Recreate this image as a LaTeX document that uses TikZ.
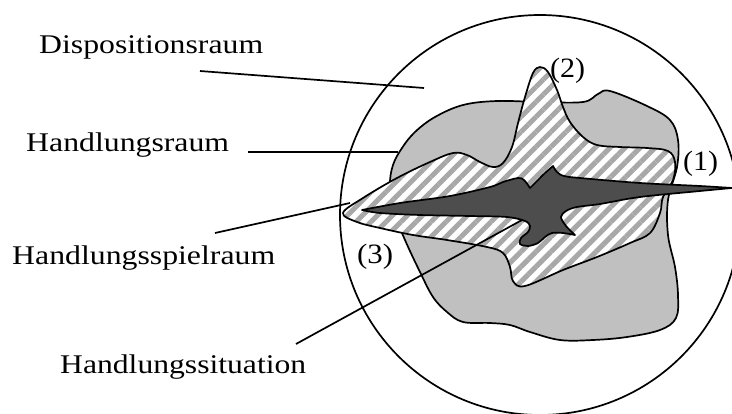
\documentclass[tikz,border=0pt]{standalone}
\usepackage{fontspec}
\setmainfont{Liberation Serif}
\usetikzlibrary{patterns.meta}
\newcommand{\fitw}[2]{\resizebox{#1}{\height}{#2}}
\begin{document}
\begin{tikzpicture}[x=1pt,y=-1pt,
  outline/.style={line width=1.7pt, line join=round},
  leader/.style={line width=1.7pt},
  bigtext/.style={anchor=base west, inner sep=0pt, font=\fontsize{27}{30}\selectfont},
  numtext/.style={anchor=base west, inner sep=0pt, font=\fontsize{28}{30}\selectfont},
  graybox/.style={outline, fill={rgb,255:red,192;green,192;blue,192}},
  darkbox/.style={outline, fill={rgb,255:red,77;green,77;blue,77}}]
\useasboundingbox (0,0) rectangle (732,413);
% outer circle: Dispositionsraum
\draw[outline] (540,215) circle[radius=200];
% Handlungsraum (gray)
\draw[graybox] plot[smooth cycle, tension=0.6] coordinates {
 (390,185) (393,165) (402,148) (415,132) (435,117) (463,105) (497,101)
 (540,102) (583,102) (598,94) (610,91) (647,106) (670,120) (678,140)
 (677,167) (668,200) (668,235) (675,267) (678,295) (676,318) (660,330)
 (627,337) (593,340) (560,340) (530,332) (510,325) (490,323) (463,322)
 (447,312) (433,297) (420,272) (405,240) (394,212)};
% Handlungsspielraum (hatched)
\def\hatchpath{plot[smooth cycle, tension=0.6] coordinates {
 (343,213) (363,198) (397,178) (430,162) (453,153) (467,155) (480,162)
 (493,167) (503,163) (512,147) (518,123) (525,97) (533,73) (540,67)
 (548,72) (557,90) (563,107) (570,122) (583,137) (597,145) (620,147)
 (647,148) (668,151) (675,162) (673,180) (663,197) (660,213) (650,233)
 (630,243) (597,257) (563,270) (525,286) (513,281) (510,267) (503,253)
 (487,247) (447,240) (413,235) (380,228) (357,222)}}
\fill[white] \hatchpath;
\fill[pattern={Lines[angle=45,distance=10.6pt,line width=5pt]}, pattern color=gray!68] \hatchpath;
\draw[outline] \hatchpath;
% Handlungssituation (dark)
\draw[darkbox]
 plot[smooth, tension=0.55] coordinates {(362,210) (400,203) (450,196) (490,187) (503,182) (518,178) (524,180) (530,188)}
 -- plot[smooth, tension=0.55] coordinates {(530,188) (537,181) (545,173) (553,166)}
 -- plot[smooth, tension=0.55] coordinates {(553,166) (557,172) (564,176) (580,178) (640,183) (700,186) (732,188)}
 -- plot[smooth, tension=0.55] coordinates {(732,188) (700,191) (640,197) (600,204) (577,207) (566,211) (561,217) (566,226) (575,235)}
 -- plot[smooth, tension=0.55] coordinates {(575,235) (563,233) (552,233) (545,237) (538,243) (528,246) (520,244) (521,238) (528,232) (530,226) (525,221) (507,217) (470,216) (420,215) (380,213) (362,210)}
 -- cycle;
% labels
\node[bigtext] (disp) at (39,53) {\fitw{224pt}{Dispositionsraum}};
\node[bigtext] (hraum) at (26,151) {\fitw{203pt}{Handlungsraum}};
\node[bigtext] (hspiel) at (12,264) {\fitw{263pt}{Handlungsspielraum}};
\node[bigtext] (hsit) at (60,373) {\fitw{246pt}{Handlungssituation}};
\node[numtext] (n1) at (683,170) {\fitw{35pt}{(1)}};
\node[numtext] (n2) at (550,77) {\fitw{35pt}{(2)}};
\node[numtext] (n3) at (357,263) {\fitw{36pt}{(3)}};
% leader lines
\coordinate (dispA) at (200,71);  \coordinate (dispB) at (424,88);
\coordinate (hraumA) at (248,152); \coordinate (hraumB) at (398,152);
\coordinate (hspielA) at (215,233); \coordinate (hspielB) at (350,203);
\coordinate (hsitA) at (296,344); \coordinate (hsitB) at (522,220);
\draw[leader] (dispA) -- (dispB);
\draw[leader] (hraumA) -- (hraumB);
\draw[leader] (hspielA) -- (hspielB);
\draw[leader] (hsitA) -- (hsitB);
\end{tikzpicture}
\end{document}
